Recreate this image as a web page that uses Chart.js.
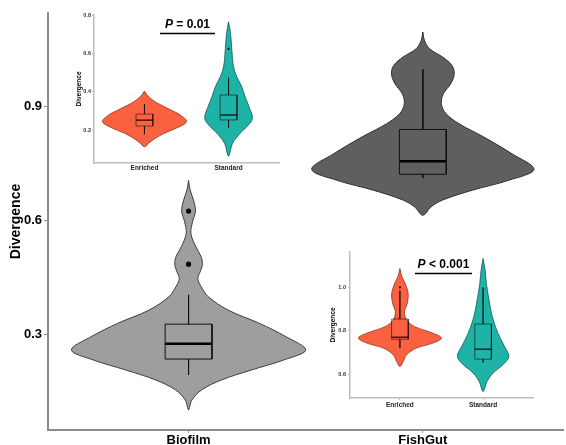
<!DOCTYPE html>
<html>
<head>
<meta charset="utf-8">
<title>Divergence by environment</title>
<script src="https://cdn.jsdelivr.net/npm/chart.js@4/dist/chart.umd.min.js"></script>
<style>
  html, body { margin: 0; padding: 0; background: #ffffff; }
  #wrap { position: relative; width: 566px; height: 445px; overflow: hidden; }
  #wrap canvas { position: absolute; }
</style>
</head>
<body>
<div id="wrap">
  <canvas id="mainChart" width="566" height="445" style="left:0;top:0"></canvas>
  <canvas id="biofilmInset" width="230" height="175" style="left:60px;top:0"></canvas>
  <canvas id="fishgutInset" width="230" height="175" style="left:320px;top:240px"></canvas>
</div>
<script>
// ---------- main panel: Biofilm vs FishGut ----------
const mainGroups = ['Biofilm', 'FishGut'];
const mainTicks = [0.3, 0.6, 0.9];

// kernel density outline: divergence levels (top to bottom) and relative density
const biofilmLevels  = [0.705, 0.679, 0.653, 0.624, 0.596, 0.565, 0.530, 0.504, 0.484, 0.464, 0.446, 0.425, 0.398, 0.363, 0.328, 0.293, 0.258, 0.232, 0.205, 0.179, 0.153, 0.126, 0.100];
const biofilmDensity = [0, 0.014, 0.042, 0.059, 0.034, 0.020, 0.062, 0.107, 0.118, 0.099, 0.079, 0.107, 0.169, 0.338, 0.606, 0.831, 1.0, 0.817, 0.535, 0.282, 0.113, 0.028, 0];
const fishgutLevels  = [1.096, 1.074, 1.052, 1.030, 1.008, 0.986, 0.960, 0.933, 0.907, 0.881, 0.854, 0.819, 0.775, 0.734, 0.705, 0.679, 0.653, 0.635, 0.613];
const fishgutDensity = [0, 0.014, 0.056, 0.169, 0.248, 0.268, 0.239, 0.175, 0.158, 0.197, 0.310, 0.521, 0.761, 0.949, 0.732, 0.423, 0.169, 0.070, 0];

// box summaries: lower whisker, Q1, median, Q3, upper whisker
const biofilmBox = [0.192, 0.234, 0.274, 0.326, 0.403];
const biofilmOutliers = [0.484, 0.624];
const fishgutBox = [0.711, 0.721, 0.755, 0.839, 0.997];
const fishgutOutliers = [];

// ---------- inset panels: Enriched vs Standard ----------
const insetGroups = ['Enriched', 'Standard'];

const biofilmInsetTicks = [0.2, 0.4, 0.6, 0.8];
const biofilmEnrichedLevels  = [0.405, 0.384, 0.357, 0.331, 0.305, 0.279, 0.244, 0.209, 0.183, 0.156, 0.130, 0.112];
const biofilmEnrichedDensity = [0, 0.063, 0.197, 0.394, 0.630, 0.850, 1.0, 0.748, 0.472, 0.252, 0.094, 0];
const biofilmStandardLevels  = [0.768, 0.708, 0.620, 0.532, 0.480, 0.427, 0.375, 0.322, 0.261, 0.217, 0.183, 0.130, 0.063];
const biofilmStandardDensity = [0, 0.047, 0.079, 0.118, 0.197, 0.315, 0.394, 0.488, 0.567, 0.433, 0.276, 0.094, 0];
const biofilmEnrichedBox = [0.178, 0.221, 0.252, 0.284, 0.335];
const biofilmEnrichedOutliers = [];
const biofilmStandardBox = [0.211, 0.253, 0.279, 0.384, 0.474];
const biofilmStandardOutliers = [0.626];
const biofilmPValue = '= 0.01';

const fishgutInsetTicks = [0.6, 0.8, 1.0];
const fishgutEnrichedLevels  = [1.087, 1.049, 1.018, 0.972, 0.926, 0.888, 0.850, 0.819, 0.789, 0.766, 0.743, 0.720, 0.689, 0.658, 0.635];
const fishgutEnrichedDensity = [0, 0.048, 0.127, 0.198, 0.175, 0.111, 0.159, 0.357, 0.794, 1.0, 0.794, 0.397, 0.159, 0.079, 0];
const fishgutStandardLevels  = [1.133, 1.080, 1.018, 0.942, 0.865, 0.789, 0.727, 0.681, 0.643, 0.605, 0.566, 0.520];
const fishgutStandardDensity = [0, 0.048, 0.079, 0.143, 0.222, 0.357, 0.516, 0.619, 0.476, 0.238, 0.095, 0];
const fishgutEnrichedBox = [0.720, 0.761, 0.770, 0.854, 0.985];
const fishgutEnrichedOutliers = [1.0];
const fishgutStandardBox = [0.653, 0.669, 0.715, 0.831, 1.0];
const fishgutStandardOutliers = [];
const fishgutPValue = '< 0.001';

// ---------- drawing helpers ----------
const FONT = "'Liberation Sans', Arial, Helvetica, sans-serif";
Chart.defaults.font.family = FONT;
Chart.defaults.color = '#000';

const VIOLIN_HALF = 0.5;   // half-width of the widest violin, in category units
const BOX_HALF = 0.1;

function violinDataset(center, levels, density, fillColor, lineColor) {
  const right = levels.map((y, i) => ({ x: center + density[i] * VIOLIN_HALF, y }));
  const left = levels.map((y, i) => ({ x: center - density[i] * VIOLIN_HALF, y })).reverse();
  return {
    data: right.concat(left.slice(1)),
    showLine: true,
    fill: 'shape',
    backgroundColor: fillColor,
    borderColor: lineColor,
    borderWidth: 1,
    tension: 0.35,
    pointRadius: 0,
    pointHoverRadius: 0,
    order: 3
  };
}

function segment(points, color, width) {
  return {
    data: points,
    showLine: true,
    fill: false,
    borderColor: color,
    borderWidth: width,
    tension: 0,
    pointRadius: 0,
    pointHoverRadius: 0,
    order: 2
  };
}

function boxDatasets(center, stats, outliers, style) {
  const [lo, q1, med, q3, hi] = stats;
  const l = center - BOX_HALF, r = center + BOX_HALF;
  return [
    segment([{ x: center, y: hi }, { x: center, y: q3 }], style.line, style.width),
    segment([{ x: center, y: q1 }, { x: center, y: lo }], style.line, style.width),
    segment([{ x: l, y: q3 }, { x: r, y: q3 }, { x: r, y: q1 }, { x: l, y: q1 }, { x: l, y: q3 }], style.line, style.width),
    segment([{ x: l, y: med }, { x: r, y: med }], style.median, style.medianWidth),
    {
      data: outliers.map(y => ({ x: center, y })),
      showLine: false,
      pointRadius: style.dot,
      pointHoverRadius: style.dot,
      pointBackgroundColor: '#000',
      pointBorderWidth: 0,
      order: 1
    }
  ];
}

// significance bar with an italic "P" followed by the comparison text
function pValuePlugin(id, x1, x2, yBar, yText, rest, fontSize) {
  return {
    id,
    afterDatasetsDraw(chart) {
      const { ctx, scales } = chart;
      const xs = scales.x, ys = scales.y;
      ctx.save();
      ctx.strokeStyle = '#000';
      ctx.lineWidth = 1.6;
      ctx.beginPath();
      const py = Math.round(ys.getPixelForValue(yBar)) + 0.5;
      ctx.moveTo(xs.getPixelForValue(x1), py);
      ctx.lineTo(xs.getPixelForValue(x2), py);
      ctx.stroke();
      const italic = `italic bold ${fontSize}px ${FONT}`;
      const bold = `bold ${fontSize}px ${FONT}`;
      ctx.font = italic;
      const wP = ctx.measureText('P').width;
      ctx.font = bold;
      const wRest = ctx.measureText(' ' + rest).width;
      const cx = xs.getPixelForValue((x1 + x2) / 2);
      const cy = ys.getPixelForValue(yText);
      let x = cx - (wP + wRest) / 2;
      ctx.fillStyle = '#000';
      ctx.textBaseline = 'middle';
      ctx.textAlign = 'left';
      ctx.font = italic;
      ctx.fillText('P', x, cy);
      ctx.font = bold;
      ctx.fillText(' ' + rest, x + wP, cy);
      ctx.restore();
    }
  };
}

function axisOptions(o) {
  return {
    type: 'linear',
    min: o.min,
    max: o.max,
    afterBuildTicks: ax => { ax.ticks = o.ticks.map(v => ({ value: v })); },
    afterFit: o.fit,
    ticks: {
      callback: o.label,
      font: { size: o.fontSize, weight: 'bold' },
      color: o.tickColor,
      padding: o.padding,
      autoSkip: false,
      maxRotation: 0,
      minRotation: 0
    },
    grid: { display: true, drawOnChartArea: false, drawTicks: true, tickLength: o.tickLength, color: o.axisColor, lineWidth: 1 },
    border: { display: true, color: o.axisColor, width: o.axisWidth },
    title: o.title ? { display: true, text: o.title, font: { size: o.titleSize, weight: 'bold' }, color: '#000', padding: { top: o.titlePad, bottom: 0 } } : { display: false }
  };
}

const baseOptions = {
  responsive: false,
  animation: false,
  events: [],
  plugins: { legend: { display: false }, tooltip: { enabled: false } }
};

// ---------- main chart ----------
const greyBox = { line: '#111', width: 1, median: '#000', medianWidth: 2.5, dot: 2.6 };
new Chart(document.getElementById('mainChart'), {
  type: 'scatter',
  data: {
    datasets: [
      violinDataset(1, biofilmLevels, biofilmDensity, '#9e9e9e', '#3c3c3c'),
      violinDataset(2, fishgutLevels, fishgutDensity, '#5f5f5f', '#2e2e2e'),
      ...boxDatasets(1, biofilmBox, biofilmOutliers, greyBox),
      ...boxDatasets(2, fishgutBox, fishgutOutliers, greyBox)
    ]
  },
  options: {
    ...baseOptions,
    layout: { padding: { top: 13, right: 0, bottom: 0, left: 0 } },
    scales: {
      x: axisOptions({ min: 0.4, max: 2.6, ticks: mainGroups.map((_, i) => i + 1), label: v => mainGroups[v - 1] || '',
        fontSize: 13, tickColor: '#000', padding: 0, tickLength: 3, axisColor: '#8c8c8c', axisWidth: 2,
        fit: s => { s.height = 15; } }),
      y: axisOptions({ min: 0.047, max: 1.146, ticks: mainTicks, label: v => v.toFixed(1),
        fontSize: 13, tickColor: '#000', padding: 2, tickLength: 4, axisColor: '#8c8c8c', axisWidth: 2,
        title: 'Divergence', titleSize: 14, titlePad: 8,
        fit: s => { s.width = 48; } })
    }
  }
});

// ---------- inset charts ----------
const orange = '#fa6141', orangeLine = 'rgba(140,40,20,0.75)';
const teal = '#1fb2a6', tealLine = 'rgba(10,80,70,0.75)';
const insetBox = { line: 'rgba(0,0,0,0.65)', width: 0.8, median: 'rgba(0,0,0,0.8)', medianWidth: 1.4, dot: 1.1 };

new Chart(document.getElementById('biofilmInset'), {
  type: 'scatter',
  data: {
    datasets: [
      violinDataset(1, biofilmEnrichedLevels, biofilmEnrichedDensity, orange, orangeLine),
      violinDataset(2, biofilmStandardLevels, biofilmStandardDensity, teal, tealLine),
      ...boxDatasets(1, biofilmEnrichedBox, biofilmEnrichedOutliers, insetBox),
      ...boxDatasets(2, biofilmStandardBox, biofilmStandardOutliers, insetBox)
    ]
  },
  options: {
    ...baseOptions,
    layout: { padding: { top: 15, right: 11, bottom: 0, left: 0 } },
    scales: {
      x: axisOptions({ min: 0.4, max: 2.6, ticks: insetGroups.map((_, i) => i + 1), label: v => insetGroups[v - 1] || '',
        fontSize: 6.5, tickColor: '#222', padding: 0, tickLength: 1, axisColor: '#bdbdbd', axisWidth: 1.5,
        fit: s => { s.height = 12; } }),
      y: axisOptions({ min: 0.027, max: 0.804, ticks: biofilmInsetTicks, label: v => v.toFixed(1),
        fontSize: 5.5, tickColor: '#333', padding: 1, tickLength: 2, axisColor: '#bdbdbd', axisWidth: 1.5,
        title: 'Divergence', titleSize: 6.5, titlePad: 15,
        fit: s => { s.width = 34; } })
    }
  },
  plugins: [pValuePlugin('biofilmP', 1.185, 1.839, 0.7095, 0.752, biofilmPValue, 12)]
});

new Chart(document.getElementById('fishgutInset'), {
  type: 'scatter',
  data: {
    datasets: [
      violinDataset(1, fishgutEnrichedLevels, fishgutEnrichedDensity, orange, orangeLine),
      violinDataset(2, fishgutStandardLevels, fishgutStandardDensity, teal, tealLine),
      ...boxDatasets(1, fishgutEnrichedBox, fishgutEnrichedOutliers, insetBox),
      ...boxDatasets(2, fishgutStandardBox, fishgutStandardOutliers, insetBox)
    ]
  },
  options: {
    ...baseOptions,
    layout: { padding: { top: 12, right: 17, bottom: 0, left: 0 } },
    scales: {
      x: axisOptions({ min: 0.4, max: 2.6, ticks: insetGroups.map((_, i) => i + 1), label: v => insetGroups[v - 1] || '',
        fontSize: 6.5, tickColor: '#222', padding: 1, tickLength: 2, axisColor: '#bdbdbd', axisWidth: 1.5,
        fit: s => { s.height = 17; } }),
      y: axisOptions({ min: 0.490, max: 1.163, ticks: fishgutInsetTicks, label: v => v.toFixed(1),
        fontSize: 5.5, tickColor: '#333', padding: 2, tickLength: 2, axisColor: '#bdbdbd', axisWidth: 1.5,
        title: 'Divergence', titleSize: 6.5, titlePad: 9,
        fit: s => { s.width = 30; } })
    }
  },
  plugins: [pValuePlugin('fishgutP', 1.181, 1.866, 1.068, 1.103, fishgutPValue, 12)]
});
</script>
</body>
</html>
